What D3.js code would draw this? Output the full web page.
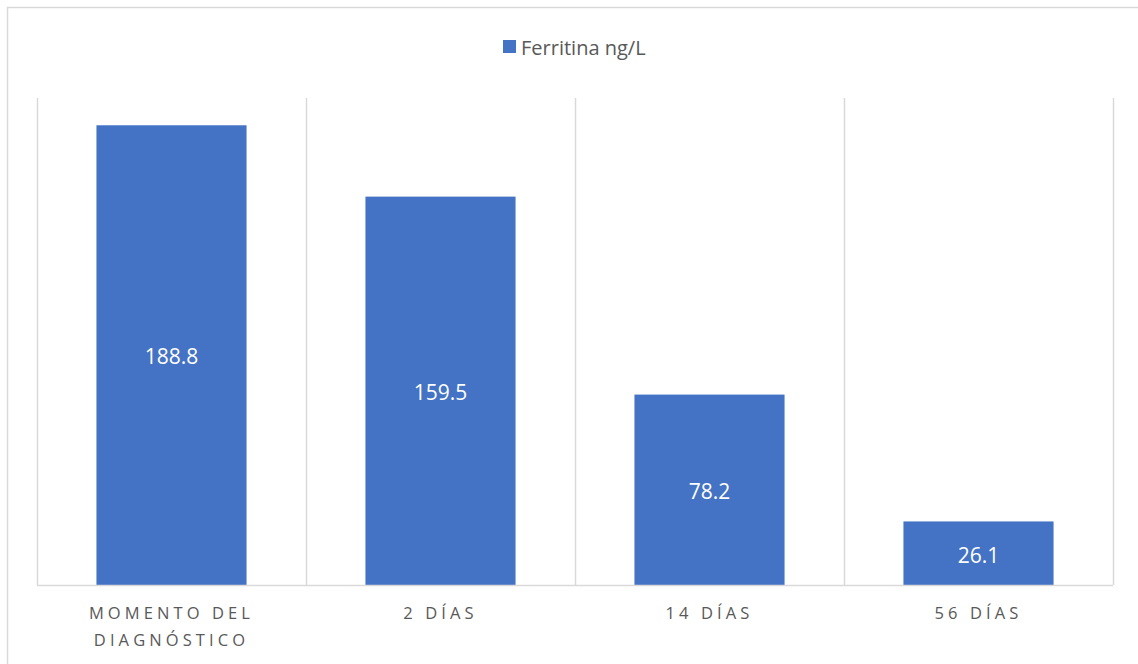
<!DOCTYPE html>
<html>
<head>
<meta charset="utf-8">
<script src="https://cdn.jsdelivr.net/npm/d3@7"></script>
<style>
  body { margin: 0; background: #fff; }
  svg text { font-family: "Open Sans", "Liberation Sans", sans-serif; }
</style>
</head>
<body>
<svg id="chart" width="1138" height="664"></svg>
<script>
// data
var categories = [["MOMENTO DEL", "DIAGNÓSTICO"], ["2 DÍAS"], ["14 DÍAS"], ["56 DÍAS"]];
var values = [188.8, 159.5, 78.2, 26.1];
var seriesName = "Ferritina ng/L";

var barColor = "#4472c4",
    gridColor = "#d9d9d9",
    textColor = "#595959";

var svg = d3.select("#chart");

// outer frame
svg.append("rect")
  .attr("x", 7.5).attr("y", 7.5)
  .attr("width", 1140).attr("height", 670)
  .attr("fill", "none").attr("stroke", gridColor).attr("stroke-width", 1.5);

var margin = {left: 37, right: 25, top: 98, bottom: 79};
var W = 1138, H = 664;

var x = d3.scaleBand()
  .domain(d3.range(categories.length))
  .range([margin.left, W - margin.right])
  .paddingInner(0.442).paddingOuter(0.221);

var y = d3.scaleLinear().domain([0, 200]).range([H - margin.bottom, margin.top]);

// vertical gridlines at category boundaries
var step = x.step();
var bounds = d3.range(categories.length + 1).map(function (i) { return margin.left + i * step; });
svg.append("g").selectAll("line").data(bounds).enter().append("line")
  .attr("x1", function (d) { return Math.round(d) + 0.5; })
  .attr("x2", function (d) { return Math.round(d) + 0.5; })
  .attr("y1", y(200)).attr("y2", y(0))
  .attr("stroke", gridColor).attr("stroke-width", 1.5);

// bars
svg.append("g").selectAll("rect").data(values).enter().append("rect")
  .attr("x", function (d, i) { return x(i); })
  .attr("y", function (d) { return y(d); })
  .attr("width", x.bandwidth())
  .attr("height", function (d) { return y(0) - y(d); })
  .attr("fill", barColor);

// axis line
svg.append("line")
  .attr("x1", margin.left).attr("x2", W - margin.right)
  .attr("y1", y(0) + 0.5).attr("y2", y(0) + 0.5)
  .attr("stroke", gridColor).attr("stroke-width", 1.5);

// value labels
svg.append("g").selectAll("text").data(values).enter().append("text")
  .attr("x", function (d, i) { return x(i) + x.bandwidth() / 2; })
  .attr("y", function (d) { return (y(d) + y(0)) / 2 + 2; })
  .attr("dy", "0.35em")
  .attr("text-anchor", "middle")
  .attr("fill", "#fff")
  .attr("font-size", "21px")
  .text(function (d) { return d.toFixed(1); });

// category labels
var cat = svg.append("g").selectAll("text").data(categories).enter().append("text")
  .attr("x", function (d, i) { return x(i) + x.bandwidth() / 2; })
  .attr("y", 619)
  .attr("text-anchor", "middle")
  .attr("fill", textColor)
  .attr("font-size", "16.5px")
  .attr("letter-spacing", "4.1px");
cat.selectAll("tspan").data(function (d) { return d; }).enter().append("tspan")
  .attr("x", function () { return d3.select(this.parentNode).attr("x"); })
  .attr("dy", function (d, j) { return j === 0 ? 0 : 27; })
  .text(function (d) { return d; });

// legend
var lg = svg.append("g");
lg.append("rect").attr("x", 503).attr("y", 40).attr("width", 13).attr("height", 13).attr("fill", barColor);
lg.append("text").attr("x", 521).attr("y", 55)
  .attr("fill", textColor).attr("font-size", "20px")
  .text(seriesName);
</script>
</body>
</html>
